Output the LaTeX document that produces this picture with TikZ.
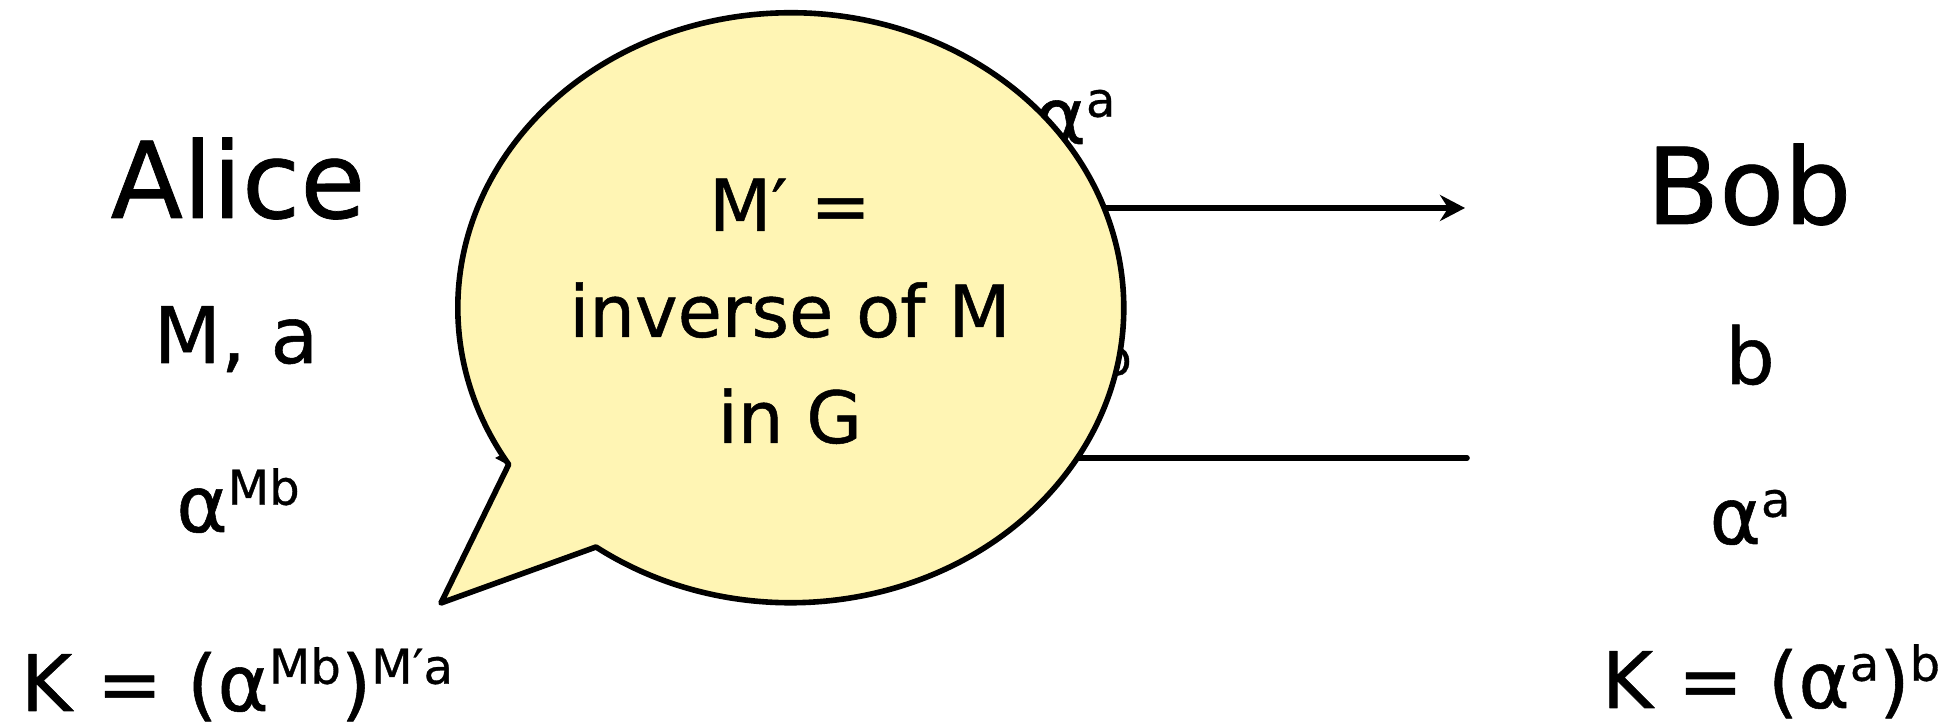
\documentclass[tikz,border=0pt]{standalone}
\usepackage{fontspec}
\setmainfont{DejaVu Sans}[FakeBold=0.7]
\usetikzlibrary{arrows.meta}
\definecolor{note}{HTML}{FFF5B4}
\newcommand\ex[1]{\raisebox{.35em}{\fontsize{24}{24}\selectfont #1}}
\tikzset{
  every picture/.style={
    line join=round,
    line cap=round,
  },
  who/.style={anchor=base, font=\fontsize{53}{60}\selectfont},
  val/.style={anchor=base, font=\fontsize{39}{44}\selectfont},
  msg/.style={line width=2.8pt},
  callout/.style={line width=2.8pt, fill=note},
}

\begin{document}
\begin{tikzpicture}[x=0.5pt,y=-0.5pt,->,>={Stealth[length=12.5pt,width=13pt]}]
\useasboundingbox (0,0) rectangle (1955,726);
% left side
\node[who] (alice) at (238,218) {Alice};
\node[val] (alicekeys) at (236,363) {M, a};
\node[val] (alicegot) at (238,532) {α\ex{Mb}};
\node[val] (alicek) at (237,711) {K = (α\ex{Mb})\ex{M′a}};
% right side
\node[who] (bob) at (1749,224) {Bob};
\node[val] (bobkey) at (1750,384) {b};
\node[val] (bobgot) at (1750,544) {α\ex{a}};
\node[val] (bobk) at (1771,708) {K = (α\ex{a})\ex{b}};
% messages
\coordinate (outA) at (500,208);
\coordinate (inB) at (1465,208);
\coordinate (outB) at (1467,458);
\coordinate (inA) at (495,458);
\draw[msg] (outA) -- (inB);
\draw[msg] (outB) -- (inA);
\node[val] (toB) at (1075,144) {α\ex{a}};
\node[val] (toA) at (1070,402) {α\ex{Mb}};
% speech bubble
\coordinate (tip) at (441,603);
\draw[callout,-] (tip) -- (596,547)
  arc[start angle=125.8, end angle=-212.1, x radius=333, y radius=295] -- cycle;
\node[anchor=base, align=center, font=\fontsize{36}{53}\selectfont] (note)
  at (790,443) {M′ =\\inverse of M\\in G};
\end{tikzpicture}
\end{document}
